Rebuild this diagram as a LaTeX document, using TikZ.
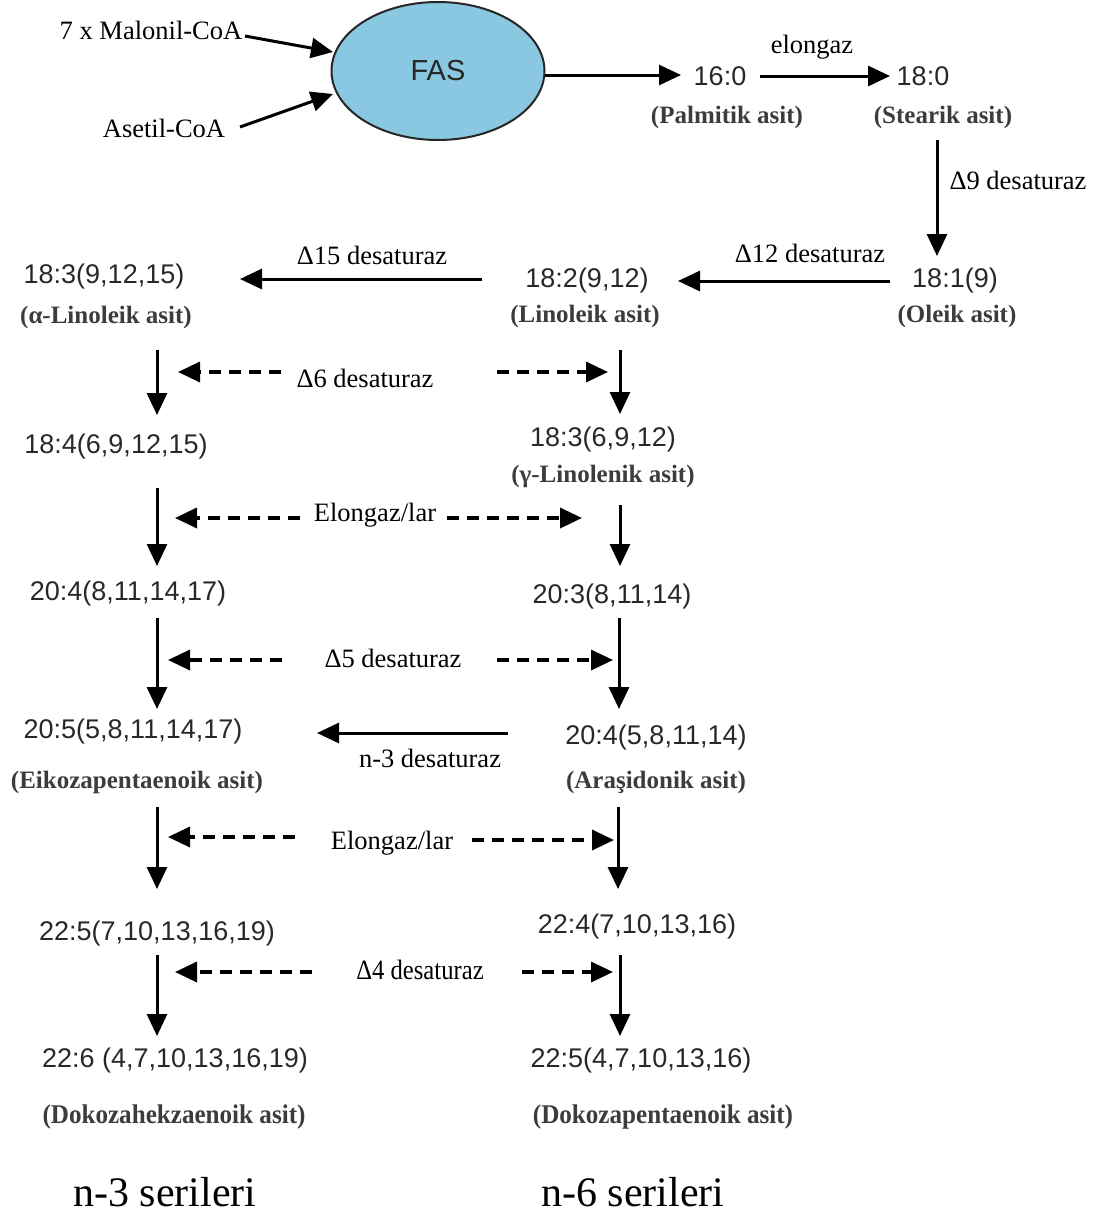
\documentclass[tikz,border=0pt]{standalone}
\usepackage{fontspec}
\setmainfont{Liberation Serif}
\newfontfamily\arialf{Liberation Sans}
\usetikzlibrary{arrows.meta,shapes.geometric}
\definecolor{fasblue}{RGB}{137,200,224}
\definecolor{fgray}{RGB}{40,40,40}
\definecolor{ngray}{RGB}{60,60,60}
\tikzset{
  fa/.style={font=\arialf\fontsize{27}{30}\selectfont, text=fgray, inner sep=0pt},
  nm/.style={font=\bfseries\fontsize{25}{28}\selectfont, text=ngray, inner sep=0pt},
  lb/.style={font=\fontsize{26.5}{30}\selectfont, inner sep=0pt},
  big/.style={font=\fontsize{42}{46}\selectfont, inner sep=0pt},
  arr/.style={-{Triangle[length=22pt,width=20pt]}, line width=3pt},
  darr/.style={-{Triangle[length=22pt,width=20pt]}, line width=3.5pt, dash pattern=on 12pt off 8pt},
}
\begin{document}
\begin{tikzpicture}[x=1pt,y=-1pt]
\useasboundingbox (0,0) rectangle (1096,1227);
% top
\node[lb] (mal) at (151,30) {7 x Malonil-CoA};
\node[lb] (ase) at (164,128) {Asetil-CoA};
\node[ellipse, draw=black!85, line width=2pt, fill=fasblue, minimum width=213pt, minimum height=138pt, inner sep=0pt, font=\arialf\fontsize{29}{32}\selectfont, text=black!85] (fas) at (438,71) {FAS};
\coordinate (m1) at (245,36); \coordinate (m2) at (333,52);
\coordinate (s1) at (240,127); \coordinate (s2) at (333,94);
\draw[arr] (m1) -- (m2);
\draw[arr] (s1) -- (s2);
\node[fa] (p160) at (720,76) {16:0};
\node[fa] (p180) at (923,76) {18:0};
\node[nm] (pal) at (727,117) {(Palmitik asit)};
\node[nm] (ste) at (943,117) {(Stearik asit)};
\coordinate (f1) at (545,75); \coordinate (f2) at (681,75);
\draw[arr] (f1) -- (f2);
\coordinate (e1) at (760,76); \coordinate (e2) at (890,76);
\draw[arr] (e1) -- (e2);
\node[lb] (elo) at (812,47) {elongaz};
% d9
\coordinate (d9a) at (937,140); \coordinate (d9b) at (937,256);
\draw[arr] (d9a) -- (d9b);
\node[lb] (d9) at (1018,180) {Δ9 desaturaz};
\node[fa] (p181) at (955,281) {18:1(9)};
\node[nm] (ole) at (957,316) {(Oleik asit)};
\node[fa] (p182) at (587,281) {18:2(9,12)};
\node[nm] (lin) at (585,316) {(Linoleik asit)};
\node[fa] (p183) at (104,277) {18:3(9,12,15)};
\node[nm] (ali) at (106,317) {(α-Linoleik asit)};
\coordinate (a12) at (890,281); \coordinate (b12) at (678,281);
\draw[arr] (a12) -- (b12);
\node[lb] (d12) at (810,253) {Δ12 desaturaz};
\coordinate (a15) at (482,279); \coordinate (b15) at (240,279);
\draw[arr] (a15) -- (b15);
\node[lb] (d15) at (372,255) {Δ15 desaturaz};
% d6 row
\coordinate (L1a) at (157,350); \coordinate (L1b) at (157,415);
\coordinate (R1a) at (620,350); \coordinate (R1b) at (620,414);
\draw[arr] (L1a) -- (L1b);
\draw[arr] (R1a) -- (R1b);
\node[lb] (d6) at (365,378) {Δ6 desaturaz};
\coordinate (dl1) at (281,372); \coordinate (dl1t) at (178,372);
\coordinate (dr1) at (497,372); \coordinate (dr1t) at (608,372);
\draw[darr] (dl1) -- (dl1t);
\draw[darr] (dr1) -- (dr1t);
\node[fa] (p184) at (116,447) {18:4(6,9,12,15)};
\node[fa] (p1836) at (603,440) {18:3(6,9,12)};
\node[nm] (gli) at (603,476) {(γ-Linolenik asit)};
% elongaz row 1
\coordinate (L2a) at (157,488); \coordinate (L2b) at (157,566);
\coordinate (R2a) at (620,505); \coordinate (R2b) at (620,566);
\draw[arr] (L2a) -- (L2b);
\draw[arr] (R2a) -- (R2b);
\node[lb] (el1) at (375,515) {Elongaz/lar};
\coordinate (dl2) at (300,518); \coordinate (dl2t) at (175,518);
\coordinate (dr2) at (447,518); \coordinate (dr2t) at (582,518);
\draw[darr] (dl2) -- (dl2t);
\draw[darr] (dr2) -- (dr2t);
\node[fa] (p204) at (128,594) {20:4(8,11,14,17)};
\node[fa] (p203) at (612,597) {20:3(8,11,14)};
% d5 row
\coordinate (L3a) at (157,618); \coordinate (L3b) at (157,709);
\coordinate (R3a) at (619,618); \coordinate (R3b) at (619,709);
\draw[arr] (L3a) -- (L3b);
\draw[arr] (R3a) -- (R3b);
\node[lb] (d5) at (393,658) {Δ5 desaturaz};
\coordinate (dl3) at (282,660); \coordinate (dl3t) at (168,660);
\coordinate (dr3) at (497,660); \coordinate (dr3t) at (613,660);
\draw[darr] (dl3) -- (dl3t);
\draw[darr] (dr3) -- (dr3t);
\node[fa] (p205) at (133,732) {20:5(5,8,11,14,17)};
\node[fa] (p2046) at (656,738) {20:4(5,8,11,14)};
\node[nm] (eik) at (137,782) {(Eikozapentaenoik asit)};
\node[nm] (ara) at (656,782) {(Araşidonik asit)};
\coordinate (n3a) at (508,733); \coordinate (n3b) at (317,733);
\draw[arr] (n3a) -- (n3b);
\node[lb] (n3) at (430,758) {n-3 desaturaz};
% elongaz row 2
\coordinate (L4a) at (157,807); \coordinate (L4b) at (157,889);
\coordinate (R4a) at (618,807); \coordinate (R4b) at (618,889);
\draw[arr] (L4a) -- (L4b);
\draw[arr] (R4a) -- (R4b);
\node[lb] (el2) at (392,843) {Elongaz/lar};
\coordinate (dl4) at (295,837); \coordinate (dl4t) at (168,837);
\coordinate (dr4) at (472,840); \coordinate (dr4t) at (614,840);
\draw[darr] (dl4) -- (dl4t);
\draw[darr] (dr4) -- (dr4t);
\node[fa] (p225) at (157,933) {22:5(7,10,13,16,19)};
\node[fa] (p224) at (637,926) {22:4(7,10,13,16)};
% d4 row
\coordinate (L5a) at (157,955); \coordinate (L5b) at (157,1036);
\coordinate (R5a) at (620,955); \coordinate (R5b) at (620,1036);
\draw[arr] (L5a) -- (L5b);
\draw[arr] (R5a) -- (R5b);
\node[lb, font=\fontsize{28}{30}\selectfont, xscale=0.88] (d4) at (420,970) {Δ4 desaturaz};
\coordinate (dl5) at (312,972); \coordinate (dl5t) at (175,972);
\coordinate (dr5) at (522,972); \coordinate (dr5t) at (613,972);
\draw[darr] (dl5) -- (dl5t);
\draw[darr] (dr5) -- (dr5t);
\node[fa] (p226) at (175,1060) {22:6 (4,7,10,13,16,19)};
\node[fa] (p2255) at (641,1060) {22:5(4,7,10,13,16)};
\node[nm, font=\bfseries\fontsize{27}{30}\selectfont, xscale=0.93] (dha) at (174,1117) {(Dokozahekzaenoik asit)};
\node[nm, font=\bfseries\fontsize{27}{30}\selectfont, xscale=0.93] (dpa) at (663,1117) {(Dokozapentaenoik asit)};
% series
\node[big] (s3) at (165,1192) {n-3 serileri};
\node[big] (s6) at (633,1192) {n-6 serileri};
\end{tikzpicture}
\end{document}
